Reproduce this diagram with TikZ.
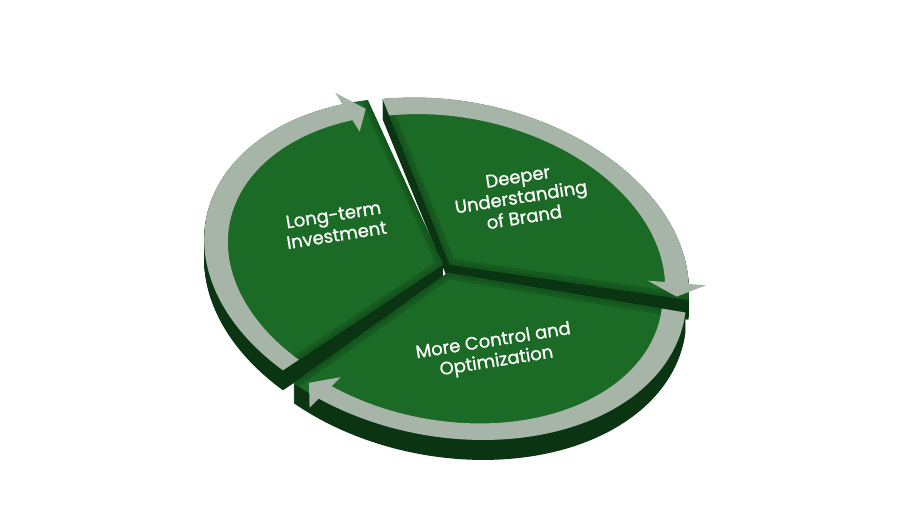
\documentclass[tikz,border=0pt]{standalone}
\usepackage{fontspec}
\setmainfont{Poppins}
\newfontfamily\wedgefont{Poppins}[FakeBold=0.9]
\definecolor{wedgegreen}{RGB}{27,106,38}
\definecolor{wedgebevel}{RGB}{20,84,29}
\definecolor{wedgedark}{RGB}{11,52,18}
\definecolor{ringgray}{RGB}{166,181,167}
\tikzset{wedgetext/.style={align=center,rotate=9,text=white,font=\wedgefont\fontsize{18}{20.5}\selectfont}}

\begin{document}
\begin{tikzpicture}[x=1pt,y=1pt]
  \useasboundingbox (0,0) rectangle (900,525);
  \begin{scope}[shift={(447,259)},x={(2.145pt,-0.11pt)},y={(-0.165pt,1.5pt)}]
    % wedges, back to front: start/end angle and shift
    \foreach \a/\b/\sx/\sy in {-8/102/3/1.5, 104/223.5/-4/1.5, 225.5/350.5/0.5/-7}{
      \begin{scope}[shift={(\sx pt,\sy pt)}]
        \foreach \d in {1,...,20}
          \fill[wedgedark,yshift={-\d*1pt}] (0,0) -- (\a:111) arc[start angle=\a,end angle=\b,radius=111] -- cycle;
        \fill[wedgegreen] (0,0) -- (\a:111) arc[start angle=\a,end angle=\b,radius=111] -- cycle;
        \begin{scope}
          \clip (0,0) -- (\a:111) arc[start angle=\a,end angle=\b,radius=111] -- cycle;
          \draw[wedgebevel!70!wedgegreen,line width=12pt] (\a:111) -- (0,0) -- (\b:111);
          \draw[wedgebevel,line width=5pt] (\a:111) -- (0,0) -- (\b:111);
        \end{scope}
      \end{scope}}
    % ring arrows: tail angle, tip angle, shift
    \foreach \t/\h/\sx/\sy [evaluate=\h as \hb using \h+5] in {102/-7.5/3/1.5, 223.5/105.5/-4/1.5, -9.5/-132/0.5/-7}{
      \fill[ringgray,shift={(\sx pt,\sy pt)}] (\t:100) arc[start angle=\t,end angle=\hb,radius=100]
        -- (\hb:92) -- (\h:105.5) -- (\hb:119) -- (\hb:111)
        arc[start angle=\hb,end angle=\t,radius=111] -- cycle;}
  \end{scope}
  \node[wedgetext] (lt) at (335,300) {Long-term\\Investment};
  \node[wedgetext] (du) at (521,328) {Deeper\\Understanding\\of Brand};
  \node[wedgetext] (mc) at (495,173) {More Control and\\Optimization};
\end{tikzpicture}
\end{document}
